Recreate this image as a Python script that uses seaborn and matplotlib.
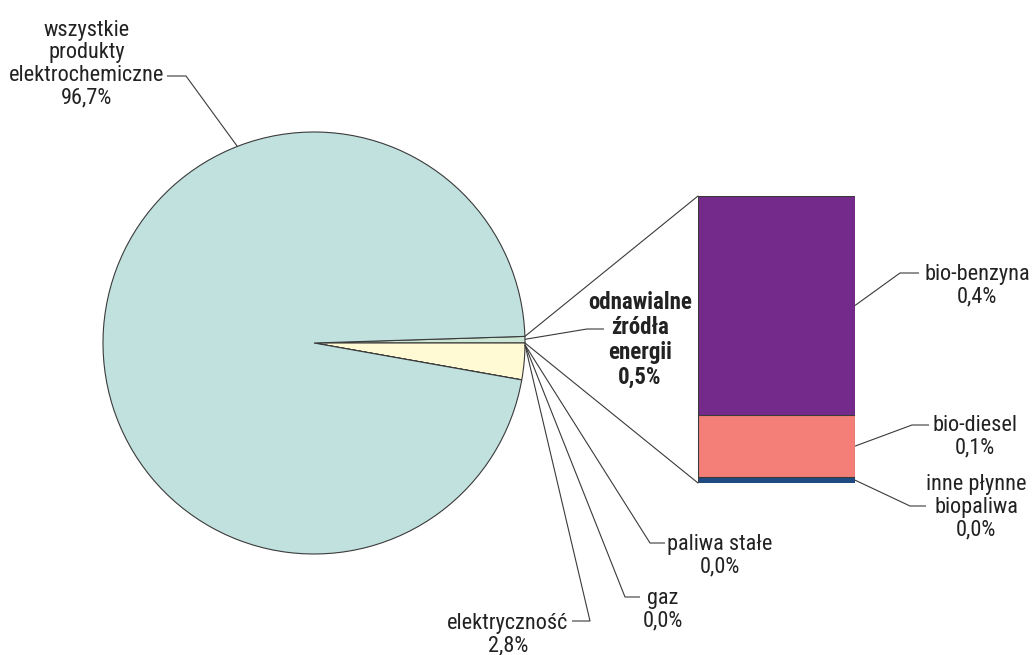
import numpy as np
import matplotlib.pyplot as plt
import seaborn as sns
from matplotlib.patches import ConnectionPatch

# Pie data (percent)
pie_labels = ['odnawialne\nźródła\nenergii', 'elektryczność', 'gaz', 'paliwa stałe',
              'wszystkie\nprodukty\nelektrochemiczne']
pie_values = [0.5, 2.8, 0.0, 0.0, 96.7]
pie_texts = ['0,5%', '2,8%', '0,0%', '0,0%', '96,7%']
pie_colors = ['#cce6d6', '#fff9d4', '#d9d9d9', '#d9d9d9', '#c1e1df']

# Breakdown of renewables (bottom to top)
bar_labels = ['inne płynne\nbiopaliwa', 'bio-diesel', 'bio-benzyna']
bar_values = [0.010, 0.108, 0.380]
bar_texts = ['0,0%', '0,1%', '0,4%']
bar_colors = ['#1f4a82', '#f47e78', '#742a8a']

W, H = 1034, 655
EDGE = '#3a3a3a'
TXT = '#222222'

sns.set_style('white')
plt.rcParams['font.family'] = ['Roboto Condensed', 'DejaVu Sans']


def px(x, y):
    # pixel position (origin top-left) -> main axes data coords
    return (x, H - y)


def main():
    fig = plt.figure(figsize=(W / 100, H / 100), dpi=100)
    ax = fig.add_axes([0, 0, 1, 1])

    # Pie
    cx, cy = px(314, 343)
    r = 211
    start = pie_values[0] * 3.6
    wedges, _ = ax.pie(pie_values, colors=pie_colors, radius=r, center=(cx, cy),
                       startangle=start, counterclock=False, normalize=True,
                       wedgeprops=dict(edgecolor=EDGE, linewidth=0.8), frame=True)
    ax.set_xlim(0, W)
    ax.set_ylim(0, H)
    ax.set_aspect('equal')
    ax.axis('off')

    def edge_pt(deg):
        a = np.deg2rad(deg)
        return (cx + r * np.cos(a), cy + r * np.sin(a))

    # Stacked bar with seaborn (cumulative overlay)
    bx, by, bw, bh = 698, 196, 157, 287
    bax = fig.add_axes([bx / W, (H - by - bh) / H, bw / W, bh / H])
    cum = np.cumsum(bar_values)
    for val, col in zip(cum[::-1], bar_colors[::-1]):
        sns.barplot(x=['x'], y=[val], color=col, width=1.0, ax=bax,
                    edgecolor=EDGE, linewidth=0.8, saturation=1)
    bax.set_xlim(-0.5, 0.5)
    bax.set_ylim(0, cum[-1])
    bax.axis('off')

    total = cum[-1]
    # connectors pie -> bar
    w0 = wedges[0]
    for th, yb in [(w0.theta2, total), (w0.theta1, 0)]:
        con = ConnectionPatch(xyA=edge_pt(th), coordsA=ax.transData,
                              xyB=(-0.5, yb), coordsB=bax.transData,
                              color=EDGE, linewidth=0.8)
        fig.add_artist(con)

    lw = 0.8
    fs = 16
    ls = 1.1

    def leader(points):
        xs, ys = zip(*points)
        ax.plot(xs, ys, color=EDGE, linewidth=lw, solid_capstyle='butt')

    def label(pos, text, size=fs, **kw):
        ax.text(*pos, text, ha='center', va='center', fontsize=size, color=TXT,
                linespacing=ls, **kw)

    # Pie labels
    leader([edge_pt(111.3), px(186, 76), px(167, 76)])
    label(px(87, 64), pie_labels[4] + '\n' + pie_texts[4])

    o = edge_pt(-0.5)
    leader([edge_pt(1.0), px(587, 329), px(604, 329)])
    label(px(640, 340), pie_labels[0] + '\n' + pie_texts[0], size=16.5,
          fontweight='bold')

    leader([o, px(650, 543), px(665, 543)])
    label(px(720, 556), pie_labels[3] + '\n' + pie_texts[3])

    leader([o, px(625, 597), px(640, 597)])
    label(px(663, 610), pie_labels[2] + '\n' + pie_texts[2])

    leader([o, px(590, 621), px(572, 621)])
    label(px(508, 635), pie_labels[1] + '\n' + pie_texts[1])

    # Bar labels
    bottoms = cum - np.array(bar_values)
    bar_lead = [[px(910, 506), px(926, 506)], [px(912, 425), px(929, 425)],
                [px(900, 273), px(919, 273)]]
    bar_txt_pos = [px(976, 507), px(975, 437), px(977, 286)]
    for i in range(3):
        mid = bottoms[i] + bar_values[i] / 2
        start_pt = ax.transData.inverted().transform(
            bax.transData.transform((0.5, mid)))
        leader([tuple(start_pt)] + bar_lead[i])
        label(bar_txt_pos[i], bar_labels[i] + '\n' + bar_texts[i])

    fig.savefig('out.png', dpi=100)
    plt.close()


if __name__ == "__main__":
    main()
